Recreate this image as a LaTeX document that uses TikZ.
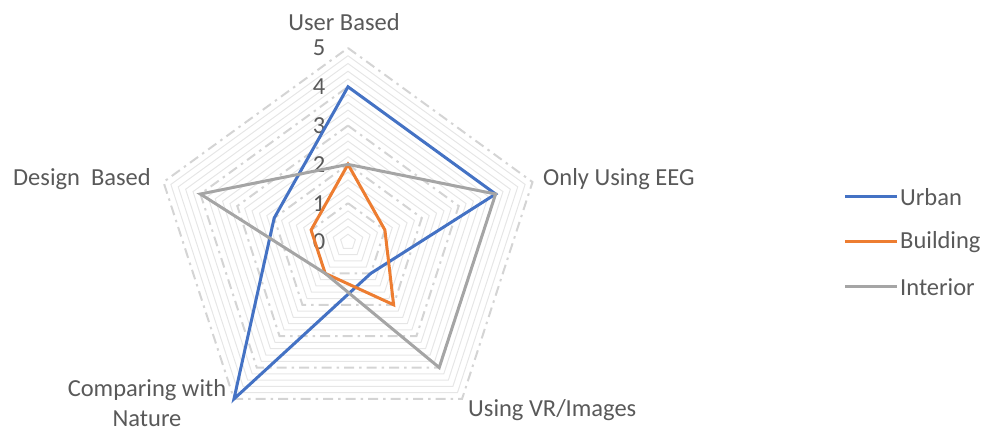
\documentclass[tikz,border=0pt]{standalone}
\usepackage{fontspec}
\setmainfont{Carlito}
\usetikzlibrary{positioning}
\definecolor{urbanblue}{HTML}{4472C4}
\definecolor{buildorange}{HTML}{ED7D31}
\definecolor{interiorgray}{HTML}{A5A5A5}
\definecolor{labelgray}{HTML}{595959}
\definecolor{majorgrid}{HTML}{D4D4D4}
\definecolor{minorgrid}{HTML}{E6E6E6}

\begin{document}
\begin{tikzpicture}[x=1pt, y=1pt,
    chartlabel/.style={text=labelgray, font=\fontsize{24.5}{30}\selectfont, inner sep=0pt},
    serie/.style={line width=3pt, line join=miter},
    majorline/.style={draw=majorgrid, line width=2pt, dash pattern=on 10pt off 5pt on 2.5pt off 5pt},
    minorline/.style={draw=minorgrid, line width=1pt}]

  \def\unit{38.8}
  \useasboundingbox (-348,-191) rectangle (637,242);

  % minor grid, every 0.2
  \foreach \m in {0,...,4} {
    \foreach \s in {1,...,4} {
      \pgfmathsetmacro{\r}{(\m+\s/5)*\unit}
      \draw[minorline] (90:\r) -- (18:\r) -- (-54:\r) -- (-126:\r) -- (162:\r) -- cycle;
    }
  }
  % major grid
  \foreach \k in {1,...,5} {
    \pgfmathsetmacro{\r}{\k*\unit}
    \draw[majorline] (90:\r) -- (18:\r) -- (-54:\r) -- (-126:\r) -- (162:\r) -- cycle;
  }

  % tick labels
  \foreach \k in {0,...,5}
    \node[chartlabel] (tick\k) at (-29, \k*\unit) {\k};

  % axis labels
  \node[chartlabel] (userbased) at (-4, 220) {User Based};
  \node[chartlabel, anchor=west] (onlyeeg) at (195, 63) {Only Using EEG};
  \node[chartlabel, anchor=west] (usingvr) at (120, -168) {Using VR/Images};
  \node[chartlabel, align=center] (nature) at (-201, -161) {Comparing with\\Nature};
  \node[chartlabel] (designbased) at (-266, 63) {Design~ Based};

  % series
  \draw[serie, urbanblue] (90:4*\unit) -- (18:4*\unit) -- (-54:1*\unit) -- (-126:5*\unit) -- (162:2*\unit) -- cycle;
  \draw[serie, buildorange] (90:2*\unit) -- (18:1*\unit) -- (-54:2*\unit) -- (-126:1*\unit) -- (162:1*\unit) -- cycle;
  \draw[serie, interiorgray] (90:2*\unit) -- (18:4*\unit) -- (-54:4*\unit) -- (-126:1*\unit) -- (162:4*\unit) -- cycle;

  % legend
  \node[chartlabel, anchor=west] (urban) at (552, 45) {Urban};
  \node[chartlabel, anchor=west] (building) at (552, 0) {Building};
  \node[chartlabel, anchor=west] (interior) at (552, -45) {Interior};
  \draw[serie, urbanblue] ([xshift=-3pt]urban.west) -- +(-52,0);
  \draw[serie, buildorange] ([xshift=-3pt]building.west) -- +(-52,0);
  \draw[serie, interiorgray] ([xshift=-3pt]interior.west) -- +(-52,0);
\end{tikzpicture}
\end{document}
